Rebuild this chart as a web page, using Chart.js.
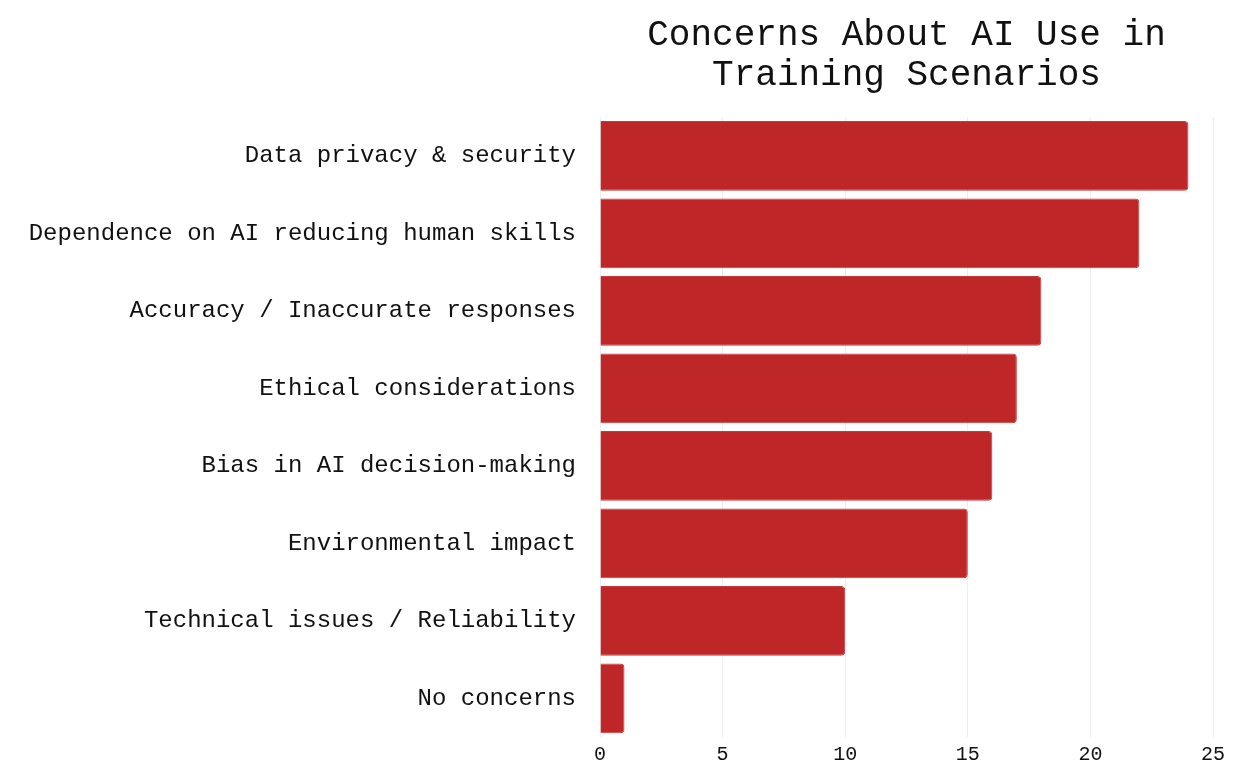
<!DOCTYPE html>
<html lang="en">
<head>
  <meta charset="UTF-8" />
  <title>Concerns About AI Use in Training Scenarios</title>
  <script src="https://cdn.jsdelivr.net/npm/chart.js"></script>
  <style>
    html, body { margin: 0; padding: 0; background: #fff; }
    #wrap { width: 1250px; height: 784px; }
  </style>
</head>
<body>
  <div id="wrap"><canvas id="chart"></canvas></div>
  <script>
    const concerns = [
      'Data privacy & security',
      'Dependence on AI reducing human skills',
      'Accuracy / Inaccurate responses',
      'Ethical considerations',
      'Bias in AI decision-making',
      'Environmental impact',
      'Technical issues / Reliability',
      'No concerns'
    ];
    const counts = [24, 22, 18, 17, 16, 15, 10, 1];
    const xTicks = [0, 5, 10, 15, 20, 25];

    const mono = "'Courier New', 'Liberation Mono', monospace";

    new Chart(document.getElementById('chart'), {
      type: 'bar',
      data: {
        labels: concerns,
        datasets: [{
          label: 'Responses',
          data: counts,
          backgroundColor: '#bf2628',
          borderColor: '#c43a3c',
          borderWidth: 1,
          borderRadius: 4,
          borderSkipped: 'start',
          barPercentage: 0.9,
          categoryPercentage: 1.0
        }]
      },
      options: {
        indexAxis: 'y',
        responsive: true,
        maintainAspectRatio: false,
        animation: false,
        layout: { padding: { left: 0, right: 37, top: 0, bottom: 0 } },
        plugins: {
          legend: { display: false },
          tooltip: { enabled: false },
          title: {
            display: true,
            fullSize: false,
            text: ['Concerns About AI Use in', 'Training Scenarios'],
            color: '#111',
            font: { family: mono, size: 36, weight: 'normal', lineHeight: 1.1 },
            padding: { top: 16, bottom: 22 }
          }
        },
        scales: {
          x: {
            min: 0,
            max: 25,
            afterBuildTicks: s => { s.ticks = xTicks.map(v => ({ value: v })); },
            afterFit: s => { s.height = 47; },
            border: { display: false },
            grid: { color: 'rgba(0,0,0,0.07)', drawTicks: false },
            ticks: {
              color: '#111',
              padding: 6,
              font: { family: mono, size: 20 }
            }
          },
          y: {
            afterFit: s => { s.width = 600; },
            border: { display: false },
            grid: { display: false, drawTicks: false },
            ticks: {
              color: '#111',
              padding: 24,
              font: { family: mono, size: 24 }
            }
          }
        }
      }
    });
  </script>
</body>
</html>
